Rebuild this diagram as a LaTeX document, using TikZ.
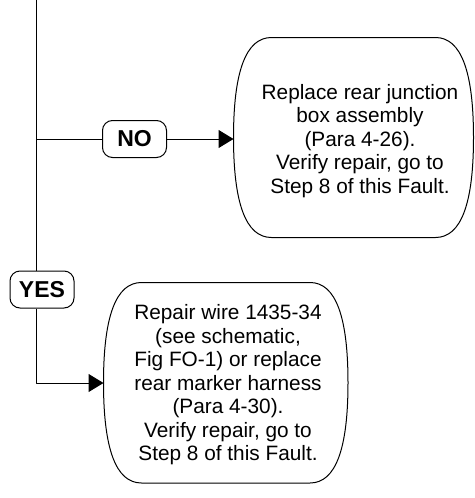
\documentclass[tikz,border=0pt]{standalone}
\usepackage{fontspec}
\setmainfont{Liberation Sans}
\usetikzlibrary{arrows.meta,calc}
\newcommand{\lensoutline}[4]{%
 \draw ({#1+38},#2)--({#3-38},#2)
  .. controls ({#3-12},#2) and (#3,{#2+35}) .. (#3,{(#2+#4)/2})
  .. controls (#3,{#4-35}) and ({#3-12},#4) .. ({#3-38},#4)
  --({#1+38},#4)
  .. controls ({#1+12},#4) and (#1,{#4-35}) .. (#1,{(#2+#4)/2})
  .. controls (#1,{#2+35}) and ({#1+12},#2) .. ({#1+38},#2)--cycle;}

\begin{document}
\begin{tikzpicture}[x=1pt,y=-1pt,line width=1pt,line join=round,
 >={Triangle[length=15pt,width=18pt]},
 answer/.style={draw,rounded corners=10pt,minimum width=64pt,
  minimum height=37pt,inner sep=0pt,
  font=\fontsize{23}{27}\selectfont\bfseries},
 remedy/.style={align=center,inner sep=0pt,
  font=\fontsize{20.8}{23.5}\selectfont}]
 \useasboundingbox (0,0) rectangle (474,498);
 \lensoutline{233.5}{37.5}{473.5}{237.5}
 \lensoutline{103.5}{282.5}{348}{483}
 \node[remedy] (junction) at (360,141)
  {Replace rear junction\\box assembly\\(Para 4-26).\\
   Verify repair, go to\\Step 8 of this Fault.};
 \node[remedy] (harness) at (228,385)
  {Repair wire 1435-34\\(see schematic,\\Fig FO-1) or replace\\
   rear marker harness\\(Para 4-30).\\Verify repair, go to\\
   Step 8 of this Fault.};
 \coordinate (junction-w) at (233.5,139);
 \coordinate (harness-w) at (103.5,383);
 \coordinate (trunk) at (36.7,0);
 \node[answer] (no) at (134.5,139) {NO};
 \node[answer] (yes) at (42,289.5) {YES};
 \draw (trunk)--(trunk |- yes.north);
 \draw (trunk |- no)--(no);
 \draw[->] (no)--(junction-w);
 \draw[->] (trunk |- yes.south)|-(harness-w);
\end{tikzpicture}
\end{document}
